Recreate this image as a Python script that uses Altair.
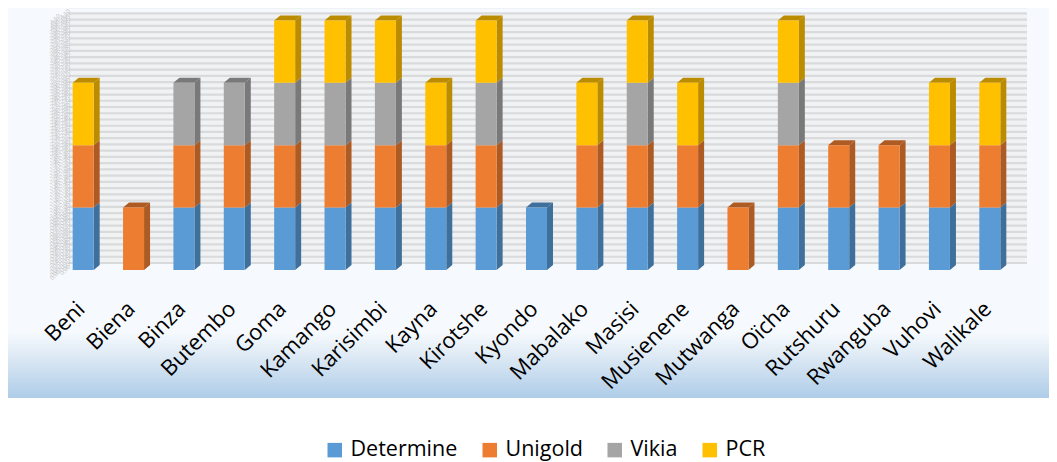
import altair as alt
import pandas as pd

sites = ["Beni", "Biena", "Binza", "Butembo", "Goma", "Kamango", "Karisimbi", "Kayna", "Kirotshe", "Kyondo",
         "Mabalako", "Masisi", "Musienene", "Mutwanga", "Oïcha", "Rutshuru", "Rwanguba", "Vuhovi", "Walikale"]
determine = [1, 0, 1, 1, 1, 1, 1, 1, 1, 1, 1, 1, 1, 0, 1, 1, 1, 1, 1]
unigold =   [1, 1, 1, 1, 1, 1, 1, 1, 1, 0, 1, 1, 1, 1, 1, 1, 1, 1, 1]
vikia =     [0, 0, 1, 1, 1, 1, 1, 0, 1, 0, 0, 1, 0, 0, 1, 0, 0, 0, 0]
pcr =       [1, 0, 0, 0, 1, 1, 1, 1, 1, 0, 1, 1, 1, 0, 1, 0, 0, 1, 1]

tests = ["Determine", "Unigold", "Vikia", "PCR"]
front = ["#5b9bd5", "#ed7d31", "#a5a5a5", "#ffc000"]
dark = ["#3f6f9b", "#ad5a23", "#797979", "#bc8c00"]
grid_values = [round(i * 0.1, 1) for i in range(42)]
label_values = [round(i * 0.05, 2) for i in range(83)]

rows = []
for i, s in enumerate(sites):
    base = 0
    seg = []
    for t, col, d, vals in zip(tests, front, dark, [determine, unigold, vikia, pcr]):
        if vals[i]:
            seg.append(dict(site=s, test=t, base=base, top=base + vals[i], dark=d, is_top=False))
            base += vals[i]
    seg[-1]["is_top"] = True
    rows += seg
df = pd.DataFrame(rows)
grid = pd.DataFrame({"v": grid_values})
labs = pd.DataFrame({"v": label_values})
labs["lab"] = labs["v"].map(lambda v: f"{v:.2f}".replace(".", ","))

xenc = alt.X("site:N", sort=sites, scale=alt.Scale(paddingInner=0, paddingOuter=0, round=False),
             axis=alt.Axis(title=None, labelAngle=-45, labelAlign="right", labelBaseline="middle",
                           labelFont="Open Sans", labelFontSize=22, labelColor="#000000", labelPadding=35,
                           labelOffset=-2, ticks=False, domain=False, grid=False, zindex=1, labelOverlap=False))
yscale = alt.Scale(domain=[0, 4.199], nice=False, zero=False)

panel = alt.Chart(pd.DataFrame({"a": [0]})).mark_rect(
    color=alt.Gradient(gradient="linear", x1=0, y1=0, x2=0, y2=1, stops=[
        alt.GradientStop(offset=0, color="#f6fafe"),
        alt.GradientStop(offset=0.83, color="#f6fafe"),
        alt.GradientStop(offset=0.88, color="#e3edf6"),
        alt.GradientStop(offset=1, color="#aecce8"),
    ])
).encode(x=alt.value(-50), x2=alt.value(991), y=alt.value(0), y2=alt.value(390))

wall_bg = alt.Chart(pd.DataFrame({"lo": [0], "hi": [4.1]})).mark_rect(color="#f1f2f4", yOffset=-7).encode(
    y=alt.Y("lo:Q", scale=yscale, axis=None), y2="hi:Q", x=alt.value(11), x2=alt.value(969))

wall = alt.Chart(grid).mark_rule(color="#d9dadc", strokeWidth=2.2, yOffset=-7).encode(
    y=alt.Y("v:Q", scale=yscale, axis=None), x=alt.value(11), x2=alt.value(969))

ytext_r = alt.Chart(labs).mark_text(angle=315, fontSize=6, font="Open Sans", color="#c4c4c4").encode(
    x=alt.value(7), y=alt.Y("v:Q", scale=yscale, axis=None), text="lab:N")

ytext_l = alt.Chart(labs).mark_text(angle=315, fontSize=6, font="Open Sans", color="#c4c4c4", yOffset=5).encode(
    x=alt.value(-3), y=alt.Y("v:Q", scale=yscale, axis=None), text="lab:N")

side = alt.Chart(df).mark_point(filled=True, opacity=1, size=4, strokeWidth=0, xOffset=10.5,
                                shape="M0,0L6,-5L6,-67.4L0,-62.4Z").encode(
    x=xenc, y=alt.Y("base:Q", scale=yscale, axis=None), fill=alt.Fill("dark:N", scale=None))

tops = alt.Chart(df[df.is_top]).mark_point(filled=True, opacity=1, size=4, strokeWidth=0, xOffset=10.5,
                                           shape="M-21,0L-15,-5L6,-5L0,0Z").encode(
    x=xenc, y=alt.Y("top:Q", scale=yscale, axis=None), fill=alt.Fill("dark:N", scale=None))

bars = alt.Chart(df).mark_bar(size=21).encode(
    x=xenc, y=alt.Y("base:Q", scale=yscale, axis=None), y2="top:Q",
    color=alt.Color("test:N", sort=tests, scale=alt.Scale(domain=tests, range=front),
                    legend=alt.Legend(title=None, orient="none", legendX=266, legendY=431, direction="horizontal",
                                      symbolType="square", symbolSize=210, symbolStrokeWidth=0, symbolOpacity=1,
                                      labelFont="Open Sans", labelFontSize=21.5, labelColor="#000000",
                                      labelOffset=5, columnPadding=21, padding=0)))

chart = alt.layer(panel, wall_bg, wall, ytext_r, ytext_l, side, tops, bars).properties(
    width=957, height=262,
    autosize=alt.AutoSizeParams(type="none"),
    padding={"left": 50, "top": 0, "right": 34, "bottom": 192},
    background="#ffffff",
).configure_view(stroke=None)

chart.save("out.html", embed_options={"renderer": "svg", "actions": False})
